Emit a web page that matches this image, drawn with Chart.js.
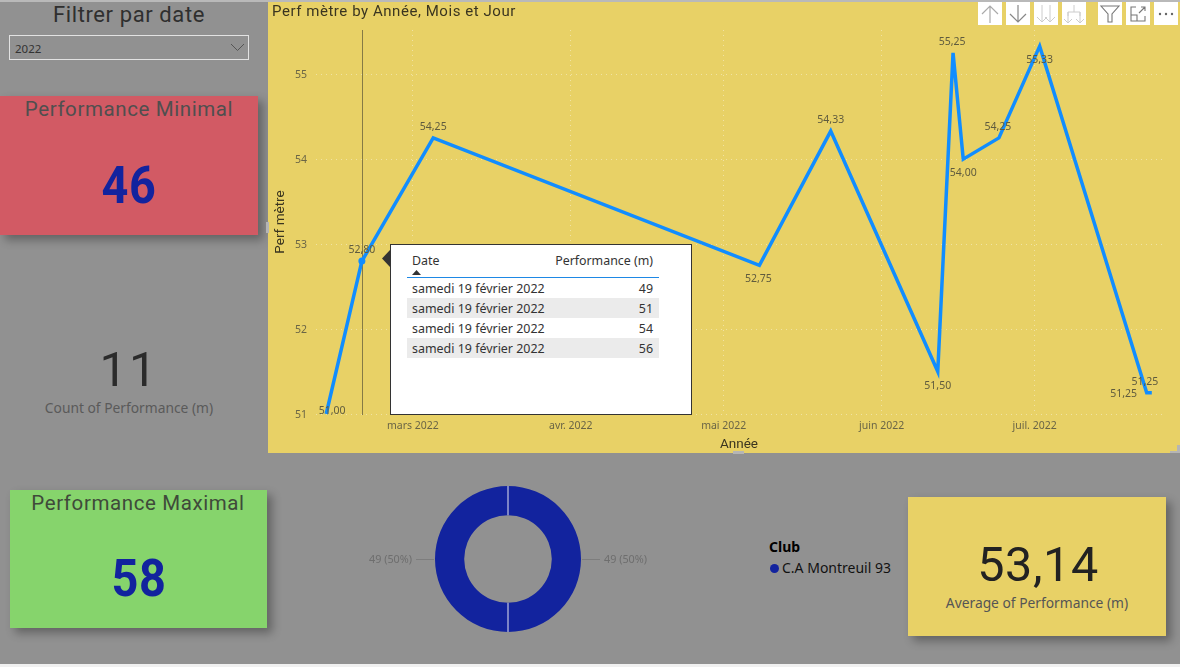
<!DOCTYPE html>
<html lang="fr"><head><meta charset="utf-8">
<script src="https://cdn.jsdelivr.net/npm/chart.js@4"></script>
<style>
html,body{margin:0;padding:0;width:1180px;height:667px;overflow:hidden;background:#919191;font-family:"Noto Sans",sans-serif}
.a{position:absolute}
.din{font-family:Roboto,sans-serif;letter-spacing:.6px}
.t{position:absolute;white-space:nowrap;transform:translate(-50%,-50%);text-align:center}
.big{transform:translate(-50%,-50%) scaleX(.9)}
.card{position:absolute;box-shadow:5px 5px 9px rgba(0,0,0,.32)}
#tip table{border-collapse:collapse;position:absolute;left:16px;top:3px;width:252px;font-size:12.45px;color:#333;table-layout:fixed}
#tip td{height:20px;padding:0 6px 0 5px;white-space:nowrap;box-sizing:border-box}
#tip td:last-child{text-align:right}
#tip tr:nth-child(even) td{background:#ebebeb}
.btn{position:absolute;top:2px;width:24px;height:23px;background:#fff}
.btn svg{display:block}
</style></head><body>
<div class="a" style="left:0;top:0;width:1180px;height:2px;background:#b9b9b9"></div>
<div class="a" style="left:0;top:664px;width:1180px;height:3px;background:#f0f0f0"></div>

<div class="t din" id="filterTitle" style="left:129px;top:14px;font-size:22px;color:#2f2f2f"></div>
<div class="a" style="left:9px;top:35px;width:238px;height:23px;border:1px solid #e2e2e2"></div>
<div class="a" id="year" style="left:15px;top:41px;font-size:11.5px;color:#333"></div>
<svg class="a" style="left:230px;top:43px" width="15" height="9"><path d="M1 1L7.5 7.5L14 1" fill="none" stroke="#555" stroke-width="1"/></svg>

<div class="card" style="left:0;top:96px;width:258px;height:139px;background:#d25a64"></div>
<div class="t din" id="minLabel" style="left:129px;top:109px;font-size:20.5px;color:#4f4f4f"></div>
<div class="t din big" id="minVal" style="left:129px;top:185px;font-size:52px;font-weight:700;color:#12239e"></div>

<div class="t din" id="countVal" style="left:129px;top:369px;font-size:49px;color:#2b2b2b;letter-spacing:2px"></div>
<div class="t" id="countLabel" style="left:129px;top:407px;font-size:13.8px;color:#5a5a5a"></div>

<div class="card" style="left:10px;top:490px;width:257px;height:138px;background:#86d46c"></div>
<div class="t din" id="maxLabel" style="left:138px;top:503px;font-size:20.5px;color:#3f4a3a"></div>
<div class="t din big" id="maxVal" style="left:139px;top:578px;font-size:52px;font-weight:700;color:#12239e"></div>

<div class="card" style="left:908px;top:497px;width:258px;height:139px;background:#e8d166"></div>
<div class="t din" id="avgVal" style="left:1038px;top:564px;font-size:48.5px;color:#222"></div>
<div class="t" id="avgLabel" style="left:1037px;top:602px;font-size:13.8px;color:#555"></div>

<div class="a" id="legTitle" style="left:769px;top:537px;font-size:14px;font-weight:700;color:#000"></div>
<div class="a" style="left:770px;top:564px;width:9px;height:9px;border-radius:50%;background:#12239e"></div>
<div class="a" id="legItem" style="left:782px;top:558px;font-size:14px;color:#111"></div>

<div class="a" style="left:268px;top:2px;width:912px;height:451px;background:#e8d166"></div>
<canvas class="a" id="line" style="left:268px;top:2px"></canvas>
<canvas class="a" id="donut" style="left:340px;top:480px"></canvas>

<div class="a" style="left:266px;top:222px;width:3px;height:11px;background:#b5b5b5"></div>
<div class="a" style="left:733px;top:451px;width:11px;height:3px;background:#b5b5b5"></div>
<div class="a" style="left:1170px;top:451px;width:10px;height:2px;background:#b5b5b5"></div>
<div class="a" style="left:1177px;top:445px;width:3px;height:8px;background:#b5b5b5"></div>

<div class="btn" style="left:978px"><svg width="24" height="23"><path d="M12 21V4M4 12L12 4L20 12" fill="none" stroke="#aaa" stroke-width="1.2"/></svg></div>
<div class="btn" style="left:1006px"><svg width="24" height="23"><path d="M12 3V20M4 12L12 20L20 12" fill="none" stroke="#888" stroke-width="1.2"/></svg></div>
<div class="btn" style="left:1034px"><svg width="24" height="23"><path d="M8 3V20M3 15L8 20L13 15M16 3V20M11 15L16 20L21 15" fill="none" stroke="#ccc" stroke-width="1"/></svg></div>
<div class="btn" style="left:1062px"><svg width="24" height="23"><path d="M12 3V10M6 14V10H18V14M6 10V21M2 17L6 21L10 17M18 10V21M14 17L18 21L22 17" fill="none" stroke="#ccc" stroke-width="1"/></svg></div>
<div class="btn" style="left:1098px"><svg width="24" height="23"><path d="M3 4H21L14 12V20H10V12Z" fill="none" stroke="#777" stroke-width="1.1"/></svg></div>
<div class="btn" style="left:1126px"><svg width="24" height="23"><path d="M10 5H5V19H19V14M5 13H11V19M13 11L19 5M15 5H19V9" fill="none" stroke="#777" stroke-width="1.1"/></svg></div>
<div class="btn" style="left:1154px"><svg width="24" height="23"><g fill="#666"><circle cx="6" cy="12" r="1.2"/><circle cx="12" cy="12" r="1.2"/><circle cx="18" cy="12" r="1.2"/></g></svg></div>

<div class="a" id="tip" style="left:390px;top:244px;width:300px;height:169px;background:#fff;border:1.5px solid #333">
  <svg class="a" style="left:-9px;top:4px" width="8" height="19"><path d="M8 1L0 9.5L8 18Z" fill="#333"/></svg>
  <div class="a" id="thDate" style="left:21px;top:7px;font-size:12.4px;color:#333"></div>
  <div class="a" id="thPerf" style="right:38px;top:7px;font-size:12.4px;color:#333"></div>
  <svg class="a" style="left:21px;top:25px" width="9" height="5"><path d="M0 5L4.5 0L9 5Z" fill="#333"/></svg>
  <div class="a" style="left:16px;top:32px;width:252px;height:1px;background:#1e88e5"></div>
  <table style="top:33px"><tbody id="rows"></tbody></table>
</div>

<script>
const filterTitle = "Filtrer par date";
const selectedYear = "2022";
const kpiMinLabel = "Performance Minimal", kpiMinValue = "46";
const kpiMaxLabel = "Performance Maximal", kpiMaxValue = "58";
const kpiCountLabel = "Count of Performance (m)", kpiCountValue = "11";
const kpiAvgLabel = "Average of Performance (m)", kpiAvgValue = "53,14";

const lineTitle = "Perf mètre by Année, Mois et Jour";
const yAxisTitle = "Perf mètre";
const xAxisTitle = "Année";
const pointDates = ["2022-02-12","2022-02-19","2022-03-05","2022-05-08","2022-05-22","2022-06-12","2022-06-15","2022-06-17","2022-06-24","2022-07-02","2022-07-23","2022-07-24"];
const perfValues = [51.00,52.80,54.25,52.75,54.33,51.50,55.25,54.00,54.25,55.33,51.25,51.25];
const yTicks = [51,52,53,54,55];
const monthTicks = ["2022-03-01","2022-04-01","2022-05-01","2022-06-01","2022-07-01"];
const monthLabels = ["mars 2022","avr. 2022","mai 2022","juin 2022","juil. 2022"];

const clubLegendTitle = "Club";
const clubNames = ["C.A Montreuil 93","C.A Montreuil 93"];
const clubCounts = [49,49];
const clubShares = ["49 (50%)","49 (50%)"];

const tipHeaders = ["Date","Performance (m)"];
const tipDates = ["samedi 19 février 2022","samedi 19 février 2022","samedi 19 février 2022","samedi 19 février 2022"];
const tipPerf = [49,51,54,56];

const setText = (id, s) => document.getElementById(id).textContent = s;
setText("filterTitle", filterTitle); setText("year", selectedYear);
setText("minLabel", kpiMinLabel); setText("minVal", kpiMinValue);
setText("maxLabel", kpiMaxLabel); setText("maxVal", kpiMaxValue);
setText("countLabel", kpiCountLabel); setText("countVal", kpiCountValue);
setText("avgLabel", kpiAvgLabel); setText("avgVal", kpiAvgValue);
setText("legTitle", clubLegendTitle); setText("legItem", clubNames[0]);
setText("thDate", tipHeaders[0]); setText("thPerf", tipHeaders[1]);
document.getElementById("rows").innerHTML = tipDates.map((d,i)=>`<tr><td style="width:190px">${d}</td><td>${tipPerf[i]}</td></tr>`).join("");

const dayOf = s => Date.parse(s + "T00:00:00Z") / 86400000;
const fmt = v => v.toFixed(2).replace(".", ",");
const labelOffsets = [[6,-3],[0,-11],[0,-11],[-1,14],[0,-11],[0,14],[-1,-11],[0,14],[-1,-11],[0,14],[-23,1],[-7,-11]];
const focusIndex = 1;

const linePlugin = {
  id: "lineExtras",
  beforeDraw(c) {
    const tb = c.titleBlock;
    if (!tb._spaced) {
      const orig = tb.draw;
      tb.draw = function(...a){ c.ctx.letterSpacing = ".55px"; orig.apply(this, a); c.ctx.letterSpacing = "0px"; };
      tb._spaced = true;
    }
  },
  beforeDatasetsDraw(c) {
    const el = c.getDatasetMeta(0).data[focusIndex], g = c.ctx;
    g.save(); g.strokeStyle = "#857a45"; g.lineWidth = 1;
    g.beginPath(); g.moveTo(Math.round(el.x)+.5, c.chartArea.top); g.lineTo(Math.round(el.x)+.5, c.chartArea.bottom+1); g.stroke(); g.restore();
  },
  afterDatasetsDraw(c) {
    const g = c.ctx; g.save();
    g.font = '10.5px "Noto Sans"'; g.fillStyle = "#5f5b3e"; g.textAlign = "center"; g.textBaseline = "middle";
    c.getDatasetMeta(0).data.forEach((el,i) => {
      g.fillText(fmt(perfValues[i]), el.x + labelOffsets[i][0], el.y + labelOffsets[i][1]);
    });
    g.restore();
  }
};

const lineCanvas = document.getElementById("line");
lineCanvas.width = 912; lineCanvas.height = 451;
new Chart(lineCanvas, {
  type: "line",
  data: { datasets: [{
    data: pointDates.map((d,i)=>({x: dayOf(d), y: perfValues[i]})),
    borderColor: "#118dff", backgroundColor: "#118dff", borderWidth: 3.5, tension: 0,
    borderJoinStyle: "miter", clip: false,
    pointRadius: perfValues.map((_,i)=> i===focusIndex ? 3.5 : 0), pointBorderWidth: 0
  }]},
  options: {
    responsive: false, animation: false, events: [],
    layout: { padding: { left: 4, right: 18, top: 0, bottom: 0 } },
    plugins: { legend: {display:false}, tooltip: {enabled:false},
      title: { display:true, text: lineTitle, align:"start", color:"#3a3520",
        font:{family:"Roboto",size:15,weight:"400"}, lineHeight:1, padding:{top:1,bottom:9} } },
    scales: {
      x: { type:"linear", min: dayOf("2022-02-10"), max: dayOf("2022-07-26"),
        afterFit(s){ s.height = 39; },
        afterBuildTicks(s){ s.ticks = monthTicks.map(m=>({value: dayOf(m)})); },
        border:{display:false, dash:[1,4]},
        grid:{color:"rgba(255,255,255,.4)", drawTicks:false},
        ticks:{ autoSkip:false, maxRotation:0, padding:6, color:"#6a6546", font:{family:"Noto Sans",size:10.5},
          callback(v){ const i = monthTicks.findIndex(m=>dayOf(m)===v); return i<0 ? "" : monthLabels[i]; } },
        title:{display:true,text:xAxisTitle,color:"#3a3520",padding:{top:0,bottom:0},font:{family:"Roboto",size:13.5}}
      },
      y: { type:"linear", min:51, max:55.52,
        afterFit(s){ s.width = 44; },
        afterBuildTicks(s){ s.ticks = yTicks.map(v=>({value:v})); },
        border:{display:false, dash:[1,4]},
        grid:{color:"rgba(255,255,255,.4)", drawTicks:false},
        ticks:{ padding:9, labelOffset:1, color:"#6a6546", font:{family:"Noto Sans",size:10.5}, callback:v=>String(v) },
        title:{display:true,text:yAxisTitle,color:"#3a3520",padding:{top:1,bottom:0},font:{family:"Roboto",size:13.5}}
      }
    }
  },
  plugins: [linePlugin]
});

const donutPlugin = {
  id: "donutExtras",
  afterDatasetsDraw(c) {
    const g = c.ctx, arcs = c.getDatasetMeta(0).data; g.save();
    arcs.forEach(a => {
      const p = a.getProps(["x","y","startAngle","innerRadius","outerRadius"]);
      g.strokeStyle = "#e6e6ee"; g.lineWidth = 1; g.beginPath();
      g.moveTo(p.x+Math.cos(p.startAngle)*p.innerRadius, p.y+Math.sin(p.startAngle)*p.innerRadius);
      g.lineTo(p.x+Math.cos(p.startAngle)*p.outerRadius, p.y+Math.sin(p.startAngle)*p.outerRadius); g.stroke();
    });
    g.font = '10.8px "Noto Sans"'; g.fillStyle = "#6e6e6e"; g.textBaseline = "middle";
    const first = arcs[0], r = first.outerRadius, cx = first.x, cy = first.y;
    g.strokeStyle = "#7d7d7d"; g.lineWidth = 1;
    [[1,0],[-1,1]].forEach(([side,i]) => {
      g.beginPath(); g.moveTo(cx+side*(r+1), cy+.5); g.lineTo(cx+side*(r+19), cy+.5); g.stroke();
      g.textAlign = side>0 ? "left" : "right";
      g.fillText(clubShares[i], cx+side*(r+23), cy+1);
    });
    g.restore();
  }
};
const donutCanvas = document.getElementById("donut");
donutCanvas.width = 336; donutCanvas.height = 158;
new Chart(donutCanvas, {
  type: "doughnut",
  data: { labels: clubNames, datasets: [{ data: clubCounts, backgroundColor: "#12239e", borderWidth: 0 }] },
  options: { responsive:false, animation:false, events:[], cutout:"60%",
    layout:{padding:{left:95,right:95,top:6,bottom:6}},
    plugins:{legend:{display:false},tooltip:{enabled:false}} },
  plugins:[donutPlugin]
});
</script>
</body></html>
